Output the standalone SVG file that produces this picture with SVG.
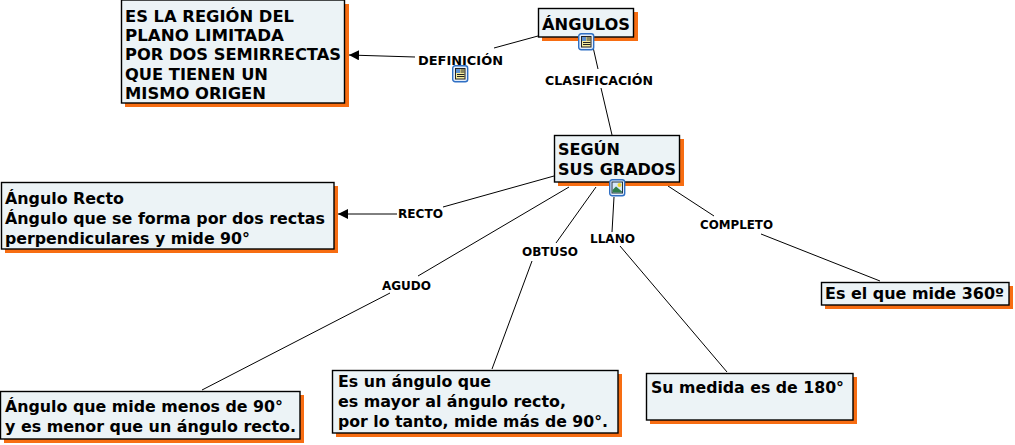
<svg xmlns="http://www.w3.org/2000/svg" width="1015" height="445" viewBox="0 0 1015 445">
<style>
.b{fill:#ecf3f6;stroke:#000;stroke-width:1.4}
.s{fill:#f76d12}
.t{font-family:"DejaVu Sans","Liberation Sans",sans-serif;font-weight:700;font-size:16px;fill:#000}
.l{font-family:"DejaVu Sans","Liberation Sans",sans-serif;font-weight:700;font-size:11.5px;fill:#000}
.c{stroke:#000;stroke-width:1;fill:none}
</style>
<defs>
<marker id="a" markerUnits="userSpaceOnUse" markerWidth="11" markerHeight="10" refX="10" refY="5" orient="auto"><path d="M10 5L0 0V10Z" fill="#000"/></marker>
<g id="frame"><rect x="0.7" y="0.7" width="15" height="16" rx="2.5" fill="#e4eefa" stroke="#2f6fc4" stroke-width="1.4"/></g>
<g id="doc"><use href="#frame"/><rect x="3.500" y="3.500" width="9.500" height="10.500" fill="#f5ec9c" stroke="#222"/><rect x="4" y="4" width="4" height="4" fill="#5a8fd0"/><path d="M8.500 5H12.500M8.500 7H12.500M5 9.500H12.500M5 11.500H12.500" stroke="#222" stroke-width="1"/></g>
<g id="pic"><use href="#frame"/><rect x="3" y="3" width="10.500" height="11" fill="#d7e8f8" stroke="#234"/><circle cx="10.500" cy="6" r="2" fill="#f2d530"/><path d="M3.500 13.500V11L7 7.500L13 12.500V13.500Z" fill="#2f7d4a"/></g>
</defs>
<rect width="1015" height="445" fill="#fff"/>
<g id="connectors">
<path class="c" d="M538 36L494 48"/>
<path class="c" d="M415 57L349 55" marker-end="url(#a)"/>
<path class="c" d="M593 47L598 69M601 88L612 135"/>
<path class="c" d="M554 176L443 207"/>
<path class="c" d="M397 214L338 214" marker-end="url(#a)"/>
<path class="c" d="M569 187L418 276M390 293L202 390"/>
<path class="c" d="M596 187L556 243M532 261L492 369"/>
<path class="c" d="M614 197L612 232M620 246L727 372"/>
<path class="c" d="M668 186L714 216M761 234L880 281"/>
</g>
<g id="node-definicion-text"><rect class="s" x="125" y="4" width="224" height="103"/><rect class="b" x="121.500" y="0" width="223" height="103"/>
<text class="t" lengthAdjust="spacingAndGlyphs" x="125" y="21.500" textLength="169">ES LA REGIÓN DEL</text><text class="t" lengthAdjust="spacingAndGlyphs" x="125" y="40.500" textLength="159">PLANO LIMITADA</text><text class="t" lengthAdjust="spacingAndGlyphs" x="125" y="60" textLength="216">POR DOS SEMIRRECTAS</text><text class="t" lengthAdjust="spacingAndGlyphs" x="125" y="79.500" textLength="143">QUE TIENEN UN</text><text class="t" lengthAdjust="spacingAndGlyphs" x="125" y="98.500" textLength="141">MISMO ORIGEN</text></g>
<g id="node-angulos"><rect class="s" x="542" y="12" width="96" height="29"/><rect class="b" x="538.500" y="8.500" width="95" height="28.500"/><text class="t" lengthAdjust="spacingAndGlyphs" x="542" y="29.500" textLength="88">ÁNGULOS</text><use href="#doc" x="578" y="33"/></g>
<g id="node-grados"><rect class="s" x="558" y="139" width="126" height="47"/><rect class="b" x="554.500" y="135.500" width="125" height="46.500"/><text class="t" lengthAdjust="spacingAndGlyphs" x="558" y="155" textLength="62">SEGÚN</text><text class="t" lengthAdjust="spacingAndGlyphs" x="558" y="175" textLength="118">SUS GRADOS</text><use href="#pic" x="609" y="179"/></g>
<g id="node-recto"><rect class="s" x="5" y="186" width="333" height="67"/><rect class="b" x="1.500" y="182.500" width="332.500" height="66.500"/><text class="t" lengthAdjust="spacingAndGlyphs" x="5" y="203.500" textLength="119">Ángulo Recto</text><text class="t" lengthAdjust="spacingAndGlyphs" x="5" y="223.500" textLength="320">Ángulo que se forma por dos rectas</text><text class="t" lengthAdjust="spacingAndGlyphs" x="5" y="243.500" textLength="245">perpendiculares y mide 90°</text></g>
<g id="node-agudo"><rect class="s" x="4" y="395" width="300" height="48"/><rect class="b" x="0.500" y="391.500" width="299.500" height="47.500"/><text class="t" lengthAdjust="spacingAndGlyphs" x="5" y="411.500" textLength="278">Ángulo que mide menos de 90°</text><text class="t" lengthAdjust="spacingAndGlyphs" x="5" y="432" textLength="291">y es menor que un ángulo recto.</text></g>
<g id="node-obtuso"><rect class="s" x="336" y="374" width="286" height="63"/><rect class="b" x="332.500" y="370.500" width="285.500" height="62.500"/><text class="t" lengthAdjust="spacingAndGlyphs" x="338" y="387" textLength="153">Es un ángulo que</text><text class="t" lengthAdjust="spacingAndGlyphs" x="338" y="407" textLength="228">es mayor al ángulo recto,</text><text class="t" lengthAdjust="spacingAndGlyphs" x="338" y="427" textLength="270">por lo tanto, mide más de 90°.</text></g>
<g id="node-llano"><rect class="s" x="650" y="377" width="207" height="47"/><rect class="b" x="646.500" y="373.500" width="206.500" height="46.500"/><text class="t" lengthAdjust="spacingAndGlyphs" x="651" y="393" textLength="193">Su medida es de 180°</text></g>
<g id="node-completo"><rect class="s" x="825" y="286" width="188" height="23"/><rect class="b" x="821.500" y="282.500" width="187.500" height="22.500"/><text class="t" lengthAdjust="spacingAndGlyphs" x="825" y="298.500" textLength="179">Es el que mide 360º</text></g>
<g id="labels">
<text class="l" lengthAdjust="spacingAndGlyphs" x="418" y="64.500" textLength="85">DEFINICIÓN</text><use href="#doc" x="452" y="65"/>
<text class="l" lengthAdjust="spacingAndGlyphs" x="545" y="84.500" textLength="108">CLASIFICACIÓN</text>
<text class="l" lengthAdjust="spacingAndGlyphs" x="398" y="218" textLength="45">RECTO</text>
<text class="l" lengthAdjust="spacingAndGlyphs" x="382" y="290" textLength="49">AGUDO</text>
<text class="l" lengthAdjust="spacingAndGlyphs" x="522" y="256" textLength="56">OBTUSO</text>
<text class="l" lengthAdjust="spacingAndGlyphs" x="590" y="243" textLength="45">LLANO</text>
<text class="l" lengthAdjust="spacingAndGlyphs" x="700" y="229" textLength="73">COMPLETO</text>
</g>
</svg>
